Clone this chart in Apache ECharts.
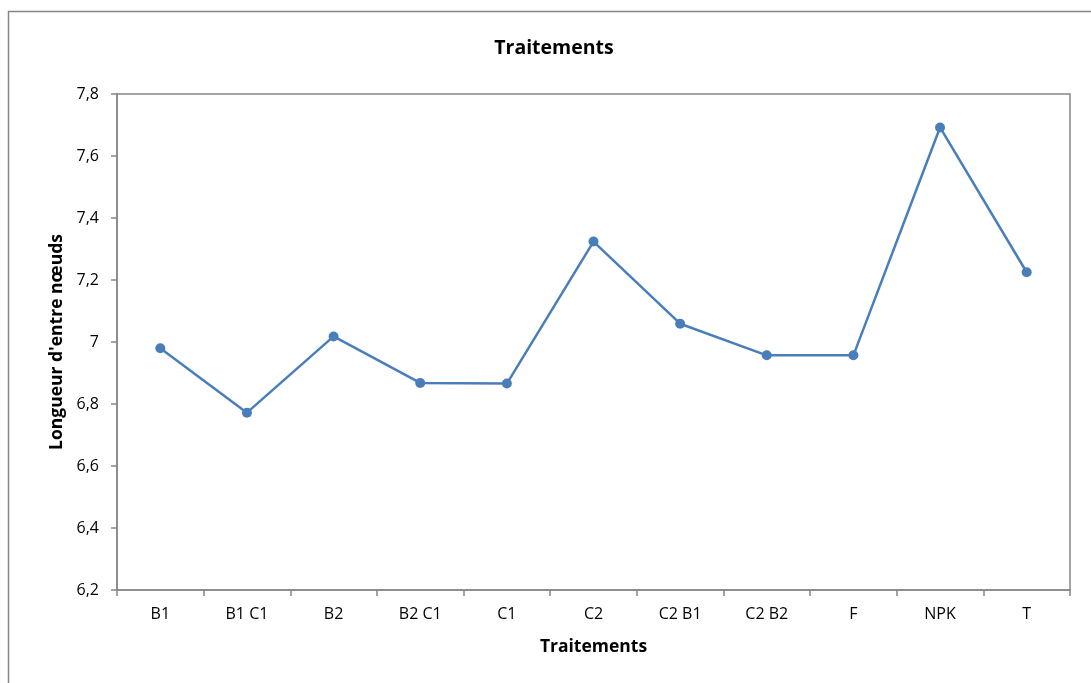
<!DOCTYPE html>
<html>
<head>
<meta charset="utf-8">
<script src="https://cdn.jsdelivr.net/npm/echarts@6/dist/echarts.min.js"></script>
<style>
  html, body { margin: 0; padding: 0; background: #fff; }
  #chart { width: 1091px; height: 683px; }
</style>
</head>
<body>
<div id="chart"></div>
<script>
// Treatments on the category axis
const categories = ['B1', 'B1 C1', 'B2', 'B2 C1', 'C1', 'C2', 'C2 B1', 'C2 B2', 'F', 'NPK', 'T'];
// Internode length per treatment
const internodeLength = [6.98, 6.772, 7.018, 6.868, 6.866, 7.324, 7.059, 6.957, 6.957, 7.692, 7.225];
// Value-axis range and step
const yMin = 6.2, yMax = 7.8, yStep = 0.2;

const FONT = '"Open Sans", "Liberation Sans", sans-serif';
const AXIS_GRAY = '#868686';

const chart = echarts.init(document.getElementById('chart'), null, { renderer: 'canvas' });
chart.setOption({
  backgroundColor: '#ffffff',
  animation: false,
  graphic: [{
    type: 'rect',
    shape: { x: 8.5, y: 11.5, width: 1200, height: 800 },
    style: { fill: 'none', stroke: AXIS_GRAY, lineWidth: 1.5 },
    silent: true
  }],
  title: {
    text: 'Traitements',
    left: 549, top: 33, textAlign: 'center',
    textStyle: { fontFamily: FONT, fontWeight: 'bold', fontSize: 19.5, color: '#000' }
  },
  grid: {
    left: 117, right: 21, top: 94, bottom: 93,
    show: true, borderColor: AXIS_GRAY, borderWidth: 1.5, backgroundColor: 'transparent'
  },
  xAxis: {
    type: 'category',
    data: categories,
    boundaryGap: true,
    name: 'Traitements',
    nameLocation: 'middle',
    nameGap: 48,
    nameTextStyle: { fontFamily: FONT, fontWeight: 'bold', fontSize: 17.5, color: '#000' },
    axisLine: { lineStyle: { color: AXIS_GRAY, width: 1.5 } },
    axisTick: { show: true, length: 6, lineStyle: { color: AXIS_GRAY, width: 1.5 } },
    axisLabel: { fontFamily: FONT, fontSize: 16, color: '#000', margin: 16 },
    splitLine: { show: false }
  },
  yAxis: {
    type: 'value',
    min: yMin, max: yMax, interval: yStep,
    name: "Longueur d'entre nœuds",
    nameLocation: 'middle',
    nameGap: 49,
    nameRotate: 90,
    nameTextStyle: { fontFamily: FONT, fontWeight: 'bold', fontSize: 17.5, color: '#000' },
    axisLine: { show: true, lineStyle: { color: AXIS_GRAY, width: 1.5 } },
    axisTick: { show: true, length: 6, lineStyle: { color: AXIS_GRAY, width: 1.5 } },
    axisLabel: {
      fontFamily: FONT, fontSize: 16, color: '#000', margin: 18,
      formatter: v => String(Math.round(v * 10) / 10).replace('.', ',')
    },
    splitLine: { show: false }
  },
  series: [{
    type: 'line',
    data: internodeLength,
    symbol: 'circle',
    symbolSize: 10,
    lineStyle: { color: '#4a7ebb', width: 2.5 },
    itemStyle: { color: '#4a7ebb' }
  }]
});
</script>
</body>
</html>
